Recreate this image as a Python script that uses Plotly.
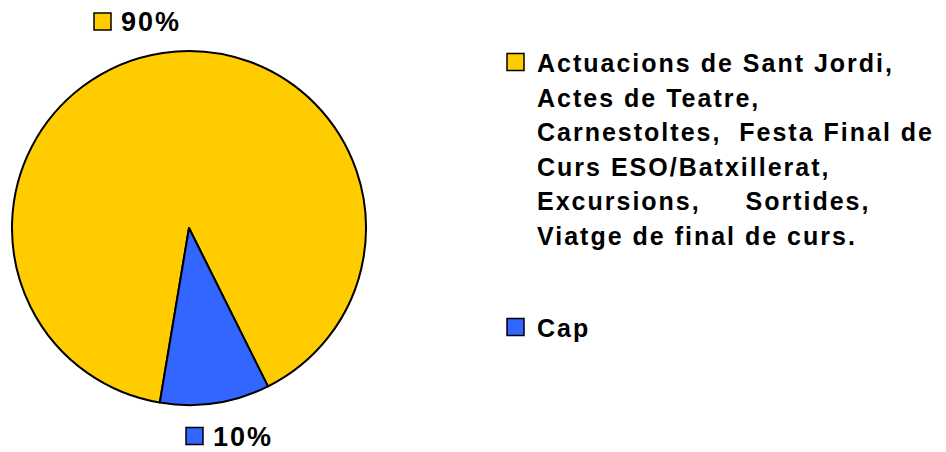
import plotly.graph_objects as go

# ---- data ----
labels = [
    "Actuacions de Sant Jordi,<br>Actes de Teatre,<br>Carnestoltes,&nbsp; Festa Final de<br>Curs ESO/Batxillerat,<br>Excursions,&nbsp;&nbsp;&nbsp;&nbsp; Sortides,<br>Viatge de final de curs.",
    "Cap",
]
values = [90, 10]
colors = ["#FFCC00", "#3366FF"]

W, H = 946, 452
OFF = 8  # page body margin
FONT = "Liberation Sans, Arial, sans-serif"


def px(x):
    return (x - OFF) / W


def py(y):
    return 1 - (y - OFF) / H


# pie geometry (screen pixels)
cx, cy, r = 189, 228, 177

fig = go.Figure()
fig.add_trace(go.Pie(
    labels=labels,
    values=values,
    sort=False,
    direction="clockwise",
    rotation=189.5,
    marker=dict(colors=colors, line=dict(color="black", width=2)),
    textinfo="none",
    hoverinfo="label+percent",
    showlegend=False,
    domain=dict(x=[px(cx - r), px(cx + r)], y=[py(cy + r), py(cy - r)]),
))

shapes = []
annotations = []
total = sum(values)

# percentage labels with key squares
label_pos = [(94, 21.5), (186, 436)]  # square left x, center y
for (sx, sy), v, c in zip(label_pos, values, colors):
    shapes.append(dict(type="rect", xref="paper", yref="paper",
                       x0=px(sx), x1=px(sx + 17), y0=py(sy + 8.5), y1=py(sy - 8.5),
                       fillcolor=c, line=dict(color="black", width=1.5)))
    annotations.append(dict(xref="paper", yref="paper", x=px(sx + 25), y=py(sy + 1),
                            xanchor="left", yanchor="middle", align="left", showarrow=False,
                            text=f"{round(v / total * 100)}%",
                            font=dict(family=FONT, size=27, color="black", weight="bold")))

# legend
legend_starts = [62, 327]
line_h = 34.6
for start, lab, c in zip(legend_starts, labels, colors):
    shapes.append(dict(type="rect", xref="paper", yref="paper",
                       x0=px(507), x1=px(524), y0=py(start + 8.5), y1=py(start - 8.5),
                       fillcolor=c, line=dict(color="black", width=1.5)))
    for i, line in enumerate(lab.split("<br>")):
        annotations.append(dict(xref="paper", yref="paper", x=px(535), y=py(start + 1 + i * line_h),
                                xanchor="left", yanchor="middle", align="left", showarrow=False,
                                text=line,
                                font=dict(family=FONT, size=25, color="black", weight="bold")))

fig.update_layout(
    width=W, height=H,
    margin=dict(l=0, r=0, t=0, b=0),
    paper_bgcolor="white",
    plot_bgcolor="white",
    shapes=shapes,
    annotations=annotations,
)

# widen the tracking of the text like the original rendering
post = """
document.querySelectorAll('.annotation-text').forEach(function(t){
  t.style.letterSpacing = '2px';
});
"""
fig.write_html("out.html", post_script=post)
